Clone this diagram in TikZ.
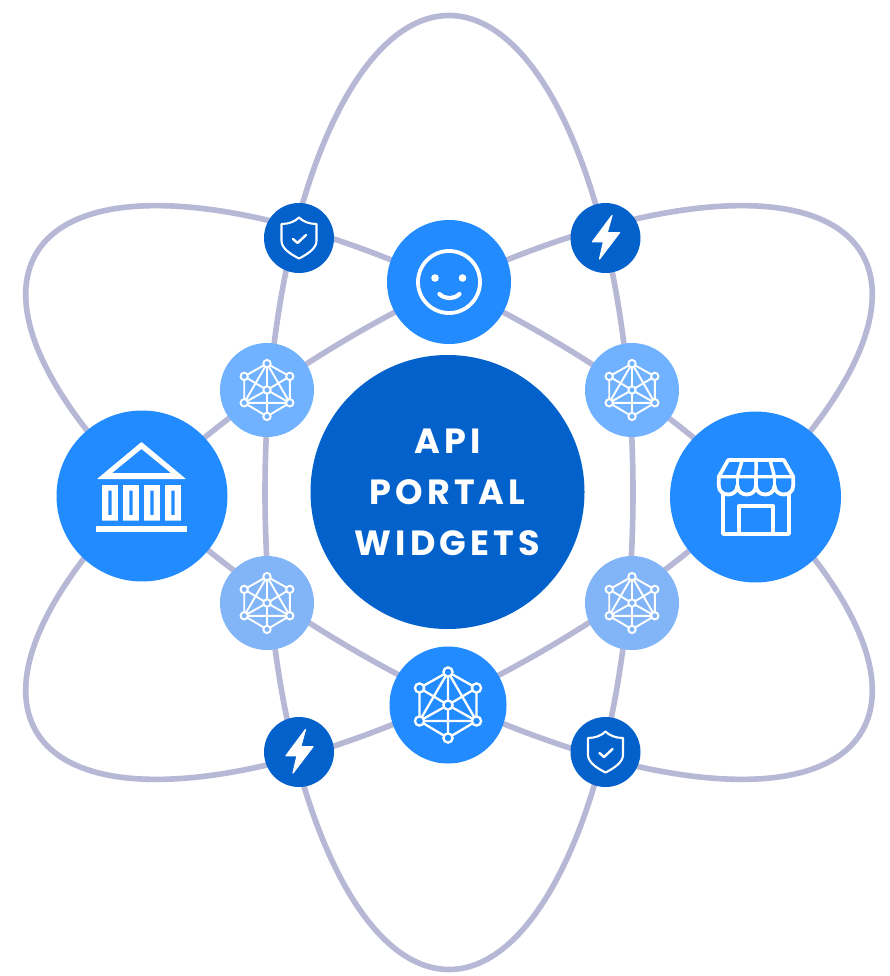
\documentclass[tikz,border=0pt]{standalone}
\usepackage{fontspec}
\newfontfamily\lab{Poppins}[LetterSpace=12]
\definecolor{ring}{HTML}{B6B8D5}
\definecolor{midblue}{HTML}{228BFF}
\definecolor{deepblue}{HTML}{0361CC}
\definecolor{skyA}{HTML}{70B2FF}
\definecolor{skyB}{HTML}{82B5F8}
\tikzset{
  orbit/.style={draw=ring,line width=5.6pt},
  disc/.style={circle,inner sep=0pt,outer sep=0pt,text=white},
  hub/.style={disc,fill=deepblue,minimum size=274pt,align=center,font=\lab\bfseries\fontsize{35}{51}\selectfont},
  big/.style={disc,fill=midblue,minimum size=171pt},
  face/.style={disc,fill=midblue,minimum size=124pt},
  netbig/.style={disc,fill=midblue,minimum size=117pt},
  lightA/.style={disc,fill=skyA,minimum size=94pt},
  lightB/.style={disc,fill=skyB,minimum size=94pt},
  badge/.style={disc,fill=deepblue,minimum size=70pt},
  ico/.style={draw=white,line join=round,line cap=round},
  netline/.style={draw=white,line width=\netw},
  netdot/.style={draw=white,line width=\netw},
  network/.pic={
    \coordinate (T) at (0,-33); \coordinate (UL) at (-28.5,-17); \coordinate (UR) at (28.5,-17);
    \coordinate (LL) at (-28.5,16); \coordinate (LR) at (28.5,16); \coordinate (B) at (0,33);
    \coordinate (C) at (0,0);
    \draw[netline] (T)--(UR)--(LR)--(B)--(LL)--(UL)--cycle (T)--(B) (T)--(LL) (T)--(LR)
      (UL)--(C)--(UR) (LL)--(C)--(LR) (LL)--(LR);
    \foreach \p in {T,UL,UR,LL,LR,B,C}{\filldraw[netdot,fill=\netfill] (\p) circle (4.6pt);}
  },
  shieldicon/.pic={
    \draw[ico,line width=2.1pt] (0,-20.5) .. controls (-4,-16.5) and (-10,-14) .. (-17.5,-14)
      -- (-17.5,3) .. controls (-17.5,10) and (-9,16) .. (0,20.5)
      .. controls (9,16) and (17.5,10) .. (17.5,3) -- (17.5,-14)
      .. controls (10,-14) and (4,-16.5) .. (0,-20.5) -- cycle;
    \draw[ico,line width=2.4pt] (-6,1) -- (-1.5,5) -- (7,-3);
  },
  bolticon/.pic={
    \filldraw[draw=white,fill=white,line width=1.2pt,line join=round]
      (6.5,-22.5) -- (-13,3.7) -- (-2,3.7) -- (-6,21) -- (14,-5.3) -- (1.7,-5.3) -- cycle;
  },
  bankicon/.pic={
    \fill[white,even odd rule,rounded corners=.6pt] (-.5,-54) -- (44,-17) -- (-45,-17) -- cycle
      (-.5,-47) -- (29,-23) -- (-30,-23) -- cycle;
    \foreach \c in {-32,-11,10,31}{
      \fill[white,even odd rule] (\c-7.8,-11) rectangle (\c+7.8,24.7)
        (\c-1.7,-5.3) rectangle (\c+1.7,19);
    }
    \fill[white] (-46,30) rectangle (45,36);
  },
  storeicon/.pic={
    \draw[ico,line width=3.8pt] (-32.5,-3) -- (-32.5,37) -- (33.5,37) -- (33.5,-3);
    \draw[ico,line width=3.8pt] (-16.7,37) -- (-16.7,9) -- (17.7,9) -- (17.7,37);
    \draw[ico,line width=3.8pt] (-27.3,-37) -- (28.3,-37) -- (37.7,-20.3) -- (37.7,-11.5)
      .. controls (37.7,0.5) and (19,0.5) .. (19,-11.5)
      .. controls (19,0.5) and (0.5,0.5) .. (0.5,-11.5)
      .. controls (0.5,0.5) and (-18.1,0.5) .. (-18.1,-11.5)
      .. controls (-18.1,0.5) and (-36.7,0.5) .. (-36.7,-11.5)
      -- (-36.7,-20.3) -- cycle;
    \draw[ico,line width=3.4pt] (-36.7,-20.3) -- (37.7,-20.3)
      (-13.3,-37) -- (-18.1,-20.3) (0.6,-37) -- (0.5,-20.3) (14.5,-37) -- (19,-20.3);
    \draw[ico,line width=3.4pt] (-18.1,-20.3) -- (-18.1,-11.5) (0.5,-20.3) -- (0.5,-11.5) (19,-20.3) -- (19,-11.5);
  },
  smileicon/.pic={
    \draw[ico,line width=3.8pt] (0,0) circle (31pt);
    \fill[white] (-14,-4) circle (3.8pt) (13.5,-4) circle (3.8pt);
    \draw[ico,line width=4.2pt] (-9.5,12) .. controls (-4,17.5) and (5,17.5) .. (10.5,12);
  }
}
\begin{document}
\begin{tikzpicture}[x=1pt,y=-1pt]
\useasboundingbox (0,0) rectangle (889,976);
\fill[white] (0,0) rectangle (889,976);
\coordinate (mid) at (449,492.5);
\draw[orbit] (mid) ellipse [x radius=184pt,y radius=477pt];
\draw[orbit,rotate around={60:(mid)}] (mid) ellipse [x radius=184pt,y radius=477pt];
\draw[orbit,rotate around={-60:(mid)}] (mid) ellipse [x radius=184pt,y radius=477pt];

\node[hub] (core) at (447.5,492) {API\\PORTAL\\WIDGETS};
\node[big] (bank) at (142,496) {};
\node[big] (store) at (755.5,497) {};
\node[face] (smile) at (449,282) {};
\node[netbig] (netb) at (448,705) {};
\node[lightA] (n1) at (267,390) {};
\node[lightA] (n2) at (632,390) {};
\node[lightB] (n3) at (267,603) {};
\node[lightB] (n4) at (632,603) {};
\node[badge] (b1) at (299,238) {};
\node[badge] (b2) at (605.5,238) {};
\node[badge] (b3) at (299,752) {};
\node[badge] (b4) at (605.5,752) {};

\pic at (bank) {bankicon};
\pic at (store) {storeicon};
\pic at (smile) {smileicon};
\def\netw{2.3pt}
\def\netfill{midblue}
\pic at (netb) {network};
\def\netw{1.9pt}
\def\netfill{skyA}
\pic[scale=.8,transform shape] at (n1) {network};
\pic[scale=.8,transform shape] at (n2) {network};
\def\netfill{skyB}
\pic[scale=.8,transform shape] at (n3) {network};
\pic[scale=.8,transform shape] at (n4) {network};
\pic at (b1) {shieldicon};
\pic at (b4) {shieldicon};
\pic at (b2) {bolticon};
\pic at (b3) {bolticon};
\end{tikzpicture}
\end{document}
